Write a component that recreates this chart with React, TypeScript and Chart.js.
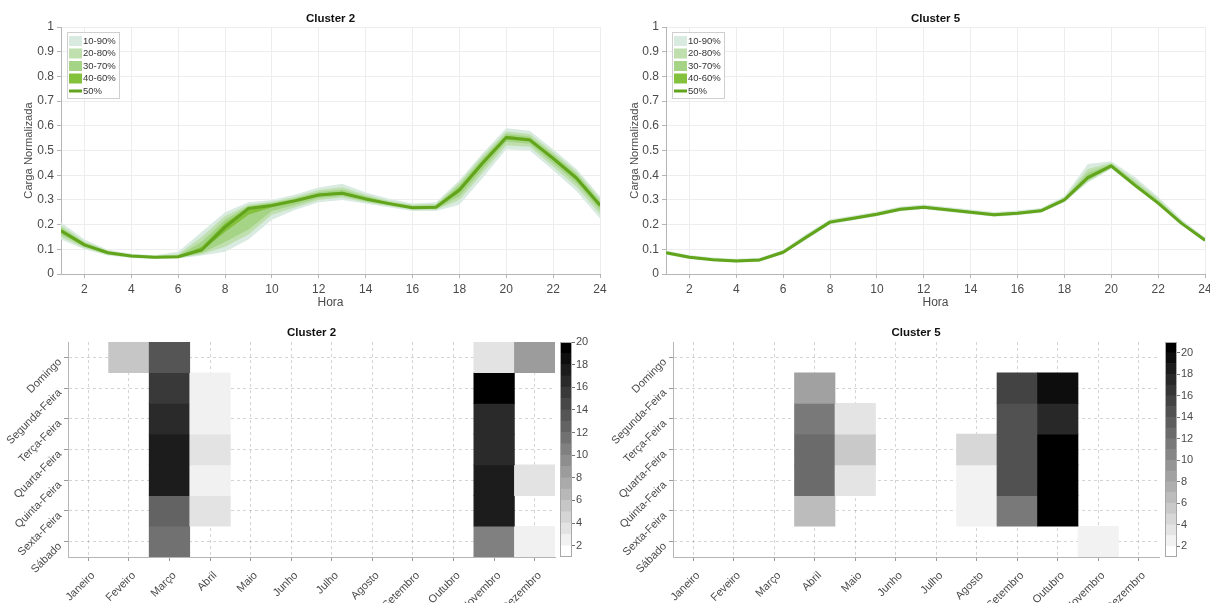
import React, { useEffect, useRef } from "react";
import { Chart, registerables } from "chart.js";

Chart.register(...registerables);

const FONT = "'Liberation Sans', Arial, Helvetica, sans-serif";

// ---------- Top charts data ----------
const hours = [1, 2, 3, 4, 5, 6, 7, 8, 9, 10, 11, 12, 13, 14, 15, 16, 17, 18, 19, 20, 21, 22, 23, 24];
const hourTicks = [2, 4, 6, 8, 10, 12, 14, 16, 18, 20, 22, 24];
const loadTicks = [0, 0.1, 0.2, 0.3, 0.4, 0.5, 0.6, 0.7, 0.8, 0.9, 1];
const bandLabels = ["10-90%", "20-80%", "30-70%", "40-60%", "50%"];

// Cluster 2 percentiles
const c2q10 = [0.14, 0.1, 0.075, 0.065, 0.061, 0.063, 0.075, 0.09, 0.14, 0.22, 0.26, 0.29, 0.3, 0.285, 0.27, 0.255, 0.255, 0.28, 0.39, 0.505, 0.5, 0.42, 0.335, 0.225];
const c2q20 = [0.15, 0.105, 0.078, 0.067, 0.063, 0.065, 0.08, 0.11, 0.16, 0.24, 0.27, 0.3, 0.31, 0.29, 0.275, 0.26, 0.26, 0.3, 0.41, 0.52, 0.515, 0.435, 0.352, 0.243];
const c2q30 = [0.16, 0.11, 0.081, 0.069, 0.065, 0.067, 0.085, 0.13, 0.18, 0.255, 0.28, 0.308, 0.317, 0.295, 0.279, 0.263, 0.263, 0.315, 0.425, 0.535, 0.527, 0.448, 0.367, 0.258];
const c2q40 = [0.168, 0.114, 0.084, 0.071, 0.067, 0.069, 0.092, 0.17, 0.24, 0.27, 0.29, 0.315, 0.323, 0.3, 0.282, 0.266, 0.266, 0.33, 0.44, 0.545, 0.536, 0.46, 0.38, 0.27];
const c2q50 = [0.175, 0.118, 0.086, 0.073, 0.068, 0.07, 0.097, 0.19, 0.265, 0.277, 0.297, 0.32, 0.327, 0.304, 0.285, 0.268, 0.27, 0.34, 0.45, 0.553, 0.543, 0.468, 0.388, 0.278];
const c2q60 = [0.181, 0.122, 0.088, 0.075, 0.069, 0.072, 0.11, 0.205, 0.27, 0.282, 0.302, 0.325, 0.333, 0.309, 0.288, 0.271, 0.274, 0.35, 0.46, 0.56, 0.55, 0.476, 0.396, 0.286];
const c2q70 = [0.188, 0.127, 0.091, 0.077, 0.071, 0.075, 0.13, 0.22, 0.275, 0.287, 0.307, 0.332, 0.341, 0.315, 0.292, 0.275, 0.278, 0.36, 0.47, 0.568, 0.557, 0.484, 0.405, 0.295];
const c2q80 = [0.197, 0.132, 0.094, 0.079, 0.073, 0.08, 0.15, 0.235, 0.28, 0.293, 0.313, 0.34, 0.351, 0.321, 0.297, 0.28, 0.283, 0.37, 0.48, 0.577, 0.567, 0.494, 0.415, 0.305];
const c2q90 = [0.21, 0.14, 0.098, 0.082, 0.076, 0.09, 0.17, 0.25, 0.29, 0.3, 0.322, 0.35, 0.365, 0.33, 0.305, 0.285, 0.29, 0.38, 0.49, 0.59, 0.58, 0.505, 0.425, 0.315];

// Cluster 5 percentiles
const c5q10 = [0.078, 0.061, 0.052, 0.047, 0.05, 0.08, 0.14, 0.2, 0.218, 0.234, 0.254, 0.262, 0.252, 0.242, 0.232, 0.238, 0.248, 0.29, 0.37, 0.425, 0.352, 0.28, 0.198, 0.13];
const c5q20 = [0.08, 0.063, 0.054, 0.049, 0.052, 0.082, 0.143, 0.203, 0.22, 0.236, 0.256, 0.264, 0.254, 0.244, 0.234, 0.24, 0.25, 0.293, 0.375, 0.428, 0.354, 0.282, 0.2, 0.132];
const c5q30 = [0.082, 0.065, 0.055, 0.05, 0.054, 0.084, 0.146, 0.206, 0.222, 0.238, 0.258, 0.266, 0.256, 0.246, 0.236, 0.242, 0.252, 0.296, 0.38, 0.431, 0.356, 0.284, 0.202, 0.134];
const c5q40 = [0.084, 0.067, 0.057, 0.052, 0.056, 0.086, 0.148, 0.208, 0.224, 0.24, 0.26, 0.268, 0.258, 0.248, 0.238, 0.244, 0.254, 0.298, 0.385, 0.435, 0.358, 0.286, 0.204, 0.136];
const c5q50 = [0.086, 0.068, 0.058, 0.053, 0.057, 0.088, 0.15, 0.21, 0.226, 0.242, 0.262, 0.27, 0.26, 0.25, 0.24, 0.246, 0.256, 0.3, 0.39, 0.438, 0.36, 0.287, 0.205, 0.137];
const c5q60 = [0.088, 0.07, 0.06, 0.055, 0.059, 0.09, 0.153, 0.212, 0.228, 0.244, 0.264, 0.272, 0.262, 0.252, 0.242, 0.248, 0.258, 0.303, 0.398, 0.441, 0.365, 0.292, 0.208, 0.139];
const c5q70 = [0.09, 0.072, 0.062, 0.057, 0.061, 0.092, 0.156, 0.215, 0.23, 0.246, 0.266, 0.274, 0.264, 0.254, 0.244, 0.25, 0.26, 0.306, 0.41, 0.445, 0.372, 0.298, 0.211, 0.141];
const c5q80 = [0.092, 0.074, 0.064, 0.059, 0.063, 0.095, 0.159, 0.218, 0.233, 0.249, 0.269, 0.277, 0.267, 0.257, 0.247, 0.253, 0.263, 0.31, 0.425, 0.45, 0.382, 0.305, 0.215, 0.144];
const c5q90 = [0.095, 0.077, 0.067, 0.062, 0.066, 0.098, 0.163, 0.222, 0.237, 0.253, 0.273, 0.281, 0.271, 0.261, 0.251, 0.257, 0.267, 0.316, 0.445, 0.456, 0.394, 0.313, 0.222, 0.148];

// ---------- Heatmap data ----------
const months = ["Janeiro", "Feveiro", "Março", "Abril", "Maio", "Junho", "Julho", "Agosto", "Setembro", "Outubro", "Novembro", "Dezembro"];
const weekdays = ["Domingo", "Segunda-Feira", "Terça-Feira", "Quarta-Feira", "Quinta-Feira", "Sexta-Feira", "Sábado"];
const dayIndex = [0, 1, 2, 3, 4, 5, 6];

// rows = weekdays, columns = months (0 = no data)
const cluster2Counts = [
  [0, 5, 13, 0, 0, 0, 0, 0, 0, 0, 3, 8],
  [0, 0, 15, 2, 0, 0, 0, 0, 0, 0, 19, 0],
  [0, 0, 16, 2, 0, 0, 0, 0, 0, 0, 16, 0],
  [0, 0, 17, 3, 0, 0, 0, 0, 0, 0, 16, 0],
  [0, 0, 17, 2, 0, 0, 0, 0, 0, 0, 17, 3],
  [0, 0, 12, 3, 0, 0, 0, 0, 0, 0, 17, 0],
  [0, 0, 11, 0, 0, 0, 0, 0, 0, 0, 10, 2],
];
const cluster5Counts = [
  [0, 0, 0, 0, 0, 0, 0, 0, 0, 0, 0, 0],
  [0, 0, 0, 8, 0, 0, 0, 0, 15, 19, 0, 0],
  [0, 0, 0, 11, 3, 0, 0, 0, 14, 17, 0, 0],
  [0, 0, 0, 12, 5, 0, 0, 4, 14, 20, 0, 0],
  [0, 0, 0, 12, 3, 0, 0, 2, 14, 20, 0, 0],
  [0, 0, 0, 6, 0, 0, 0, 2, 11, 20, 0, 0],
  [0, 0, 0, 0, 0, 0, 0, 0, 0, 0, 2, 0],
];
const colorbar2Levels = [1, 2, 3, 4, 5, 6, 7, 8, 9, 10, 11, 12, 13, 14, 15, 16, 17, 18, 19];
const colorbar5Levels = [1, 2, 3, 4, 5, 6, 7, 8, 9, 10, 11, 12, 13, 14, 15, 16, 17, 18, 19, 20];
const colorbarTicks = [2, 4, 6, 8, 10, 12, 14, 16, 18, 20];

// ---------- styles ----------
const bandColors = ["#d9ebe0", "#bfe0ae", "#a5d487", "#84c23e", "#62a51c"];
const tickColor = "#4a4a4a";
const axisColor = "#b5b5b5";

function grayFor(v: number, cmin: number, cmax: number) {
  const n = cmax - cmin;
  const k = Math.min(Math.max(Math.floor(v) - cmin, 0), n - 1);
  const g = Math.round(255 * (1 - k / (n - 1)));
  return `rgb(${g},${g},${g})`;
}

const titlePlugin = {
  id: "panelTitle",
  afterDraw(chart: any, _args: any, opts: any) {
    const { ctx, chartArea } = chart;
    ctx.save();
    ctx.font = `bold 11.5px ${FONT}`;
    ctx.fillStyle = "#111";
    ctx.textAlign = "center";
    ctx.textBaseline = "middle";
    ctx.fillText(opts.text, (chartArea.left + chartArea.right) / 2, chartArea.top - opts.offset);
    ctx.restore();
  },
};

const bandLegendPlugin = {
  id: "bandLegend",
  afterDatasetsDraw(chart: any) {
    const { ctx, chartArea } = chart;
    const x0 = chartArea.left + 6;
    const y0 = chartArea.top + 5;
    ctx.save();
    ctx.fillStyle = "#fff";
    ctx.fillRect(x0, y0, 52, 66);
    ctx.strokeStyle = "#cfcfcf";
    ctx.lineWidth = 1;
    ctx.strokeRect(x0 + 0.5, y0 + 0.5, 52, 66);
    ctx.font = `9.5px ${FONT}`;
    ctx.textBaseline = "middle";
    ctx.textAlign = "left";
    bandLabels.forEach((lab, i) => {
      const cy = y0 + 9 + i * 12.5;
      if (i < 4) {
        ctx.fillStyle = bandColors[i];
        ctx.fillRect(x0 + 2, cy - 5, 13, 10);
      } else {
        ctx.strokeStyle = bandColors[4];
        ctx.lineWidth = 3;
        ctx.beginPath();
        ctx.moveTo(x0 + 2, cy);
        ctx.lineTo(x0 + 15, cy);
        ctx.stroke();
      }
      ctx.fillStyle = "#333";
      ctx.fillText(lab, x0 + 16, cy);
    });
    ctx.restore();
  },
};

const framePlugin = {
  id: "frame",
  afterDraw(chart: any) {
    const { ctx, chartArea } = chart;
    ctx.save();
    ctx.strokeStyle = "#a8a8a8";
    ctx.lineWidth = 1;
    ctx.strokeRect(Math.round(chartArea.left) + 0.5, Math.round(chartArea.top) + 0.5, Math.round(chartArea.right - chartArea.left) - 1, Math.round(chartArea.bottom - chartArea.top) - 1);
    ctx.restore();
  },
};

const baseOptions = {
  responsive: false,
  animation: false,
  devicePixelRatio: 1,
  events: [],
};

function lineConfig(title: string, q: number[][], yTitlePad: number, padRight: number) {
  const datasets: any[] = [];
  const pairs = [
    [0, 8],
    [1, 7],
    [2, 6],
    [3, 5],
  ];
  pairs.forEach(([lo, hi], b) => {
    const loIndex = datasets.length;
    datasets.push({
      label: bandLabels[b] + " low",
      data: q[lo],
      borderWidth: 0,
      borderColor: "rgba(0,0,0,0)",
      pointRadius: 0,
      fill: false,
      order: 4 - b,
    });
    datasets.push({
      label: bandLabels[b],
      data: q[hi],
      borderWidth: 0,
      borderColor: "rgba(0,0,0,0)",
      backgroundColor: bandColors[b],
      pointRadius: 0,
      fill: { target: loIndex },
      order: 4 - b,
    });
  });
  datasets.push({
    label: bandLabels[4],
    data: q[4],
    borderWidth: 3,
    borderColor: bandColors[4],
    pointRadius: 0,
    fill: false,
    order: 0,
    borderJoinStyle: "round",
  });
  return {
    type: "line",
    data: { labels: hours, datasets: datasets.map((d) => ({ ...d, data: d.data.map((v: number, i: number) => ({ x: hours[i], y: v })) })) },
    options: {
      ...baseOptions,
      layout: { padding: { top: 27, left: 0, right: padRight, bottom: 5 } },
      plugins: { legend: { display: false }, tooltip: { enabled: false }, panelTitle: { text: title, offset: 8 } },
      elements: { line: { tension: 0 } },
      scales: {
        x: {
          type: "linear",
          min: 1,
          max: 24,
          afterBuildTicks: (s: any) => {
            s.ticks = hourTicks.map((v) => ({ value: v }));
          },
          afterFit: (s: any) => {
            s.height = 36;
          },
          grid: { color: "#ededed", tickLength: 4, tickColor: axisColor },
          border: { color: axisColor },
          ticks: { font: { family: FONT, size: 12 }, color: tickColor, padding: 4, maxRotation: 0, callback: (v: any) => String(v) },
          title: { display: true, text: "Hora", font: { family: FONT, size: 12 }, color: tickColor, padding: { top: 0, bottom: 0 } },
        },
        y: {
          type: "linear",
          min: 0,
          max: 1,
          afterBuildTicks: (s: any) => {
            s.ticks = loadTicks.map((v) => ({ value: v }));
          },
          afterFit: (s: any) => {
            s.width = 61;
          },
          grid: { color: "#ededed", tickLength: 4, tickColor: axisColor },
          border: { color: axisColor },
          ticks: { font: { family: FONT, size: 12 }, color: tickColor, padding: 3, callback: (v: any) => String(v) },
          title: { display: true, text: "Carga Normalizada", font: { family: FONT, size: 11.2 }, color: tickColor, padding: { top: yTitlePad, bottom: 0 } },
        },
      },
    },
    plugins: [titlePlugin, bandLegendPlugin],
  };
}

function heatConfig(title: string, counts: number[][], cmin: number, cmax: number, padRight: number) {
  const datasets = weekdays.map((day, r) => ({
    label: day,
    data: counts[r].map((v) => (v > 0 ? [r - 0.5, r + 0.5] : null)),
    backgroundColor: counts[r].map((v) => grayFor(v, cmin, cmax)),
    borderWidth: 0,
    grouped: false,
    barPercentage: 1,
    categoryPercentage: 1,
  }));
  const gridCol = "rgba(60,60,60,0.22)";
  return {
    type: "bar",
    data: { labels: months, datasets },
    options: {
      ...baseOptions,
      layout: { padding: { top: 32, left: 0, right: padRight, bottom: 0 } },
      plugins: { legend: { display: false }, tooltip: { enabled: false }, panelTitle: { text: title, offset: 9 } },
      scales: {
        x: {
          type: "category",
          offset: true,
          z: 1,
          afterFit: (s: any) => {
            s.height = 46;
          },
          grid: { offset: false, color: gridCol, tickLength: 4, tickColor: "#9a9a9a" },
          border: { color: axisColor, dash: [3, 3] },
          ticks: { font: { family: FONT, size: 11 }, color: tickColor, padding: 8, labelOffset: 5, minRotation: 45, maxRotation: 45, autoSkip: false },
        },
        y: {
          type: "linear",
          min: -0.5,
          max: 6.5,
          reverse: true,
          z: 1,
          afterBuildTicks: (s: any) => {
            s.ticks = dayIndex.map((v) => ({ value: v }));
          },
          afterFit: (s: any) => {
            s.width = 68;
          },
          grid: { color: gridCol, tickLength: 4, tickColor: "#9a9a9a" },
          border: { color: axisColor, dash: [3, 3] },
          ticks: { font: { family: FONT, size: 11 }, color: tickColor, padding: 4, labelOffset: 3, minRotation: 45, maxRotation: 45, callback: (v: any) => weekdays[v] },
        },
      },
    },
    plugins: [titlePlugin],
  };
}

function colorbarConfig(levels: number[], cmin: number, cmax: number) {
  const datasets = levels.map((l) => ({
    label: String(l),
    data: [[l, l + 1]],
    backgroundColor: grayFor(l, cmin, cmax),
    borderWidth: 0,
    grouped: false,
    barPercentage: 1,
    categoryPercentage: 1,
  }));
  return {
    type: "bar",
    data: { labels: [""], datasets },
    options: {
      ...baseOptions,
      layout: { padding: { top: 32, left: 5, right: 0, bottom: 46 } },
      plugins: { legend: { display: false }, tooltip: { enabled: false } },
      scales: {
        x: { display: false, offset: true },
        y: {
          type: "linear",
          position: "right",
          min: cmin,
          max: cmax,
          afterBuildTicks: (s: any) => {
            s.ticks = colorbarTicks.map((v) => ({ value: v }));
          },
          afterFit: (s: any) => {
            s.width = 33;
          },
          grid: { drawOnChartArea: false, tickLength: 3, tickColor: "#777" },
          border: { display: false },
          ticks: { font: { family: FONT, size: 11 }, color: tickColor, padding: 1 },
        },
      },
    },
    plugins: [framePlugin],
  };
}

function ChartCanvas({ left, top, width, height, make }: { left: number; top: number; width: number; height: number; make: () => any }) {
  const ref = useRef<HTMLCanvasElement>(null);
  useEffect(() => {
    const chart = new Chart(ref.current as HTMLCanvasElement, make());
    return () => chart.destroy();
  }, []);
  return <canvas ref={ref} width={width} height={height} style={{ position: "absolute", left, top, width, height }} />;
}

export default function App() {
  const q2 = [c2q10, c2q20, c2q30, c2q40, c2q50, c2q60, c2q70, c2q80, c2q90];
  const q5 = [c5q10, c5q20, c5q30, c5q40, c5q50, c5q60, c5q70, c5q80, c5q90];
  return (
    <div style={{ position: "absolute", left: 0, top: 0, width: 1210, height: 603, overflow: "hidden", background: "#fff" }}>
      <ChartCanvas left={0} top={0} width={612} height={315} make={() => lineConfig("Cluster 2", q2, 22.4, 12)} />
      <ChartCanvas left={605} top={0} width={615} height={315} make={() => lineConfig("Cluster 5", q5, 23.4, 15)} />
      <ChartCanvas left={0} top={310} width={560} height={293} make={() => heatConfig("Cluster 2", cluster2Counts, 1, 20, 5)} />
      <ChartCanvas left={555} top={310} width={50} height={293} make={() => colorbarConfig(colorbar2Levels, 1, 20)} />
      <ChartCanvas left={605} top={310} width={560} height={293} make={() => heatConfig("Cluster 5", cluster5Counts, 1, 21, 6)} />
      <ChartCanvas left={1160} top={310} width={50} height={293} make={() => colorbarConfig(colorbar5Levels, 1, 21)} />
    </div>
  );
}
